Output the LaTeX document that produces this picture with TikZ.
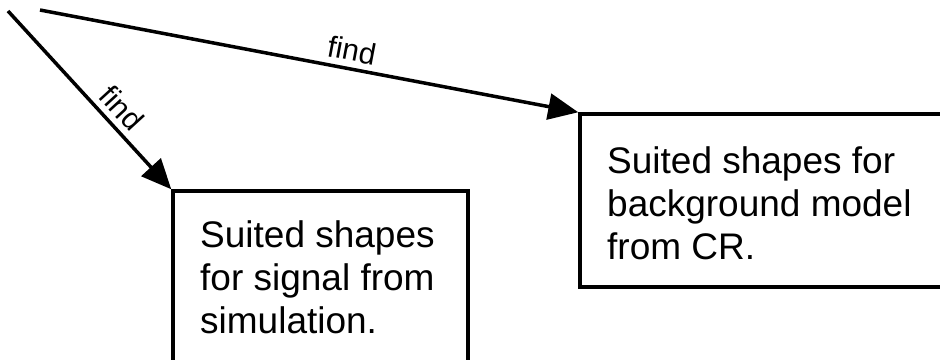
\documentclass[tikz,border=0pt]{standalone}
\usepackage{fontspec}
\setmainfont{Liberation Sans}
\usetikzlibrary{arrows.meta}
\begin{document}
\begin{tikzpicture}[x=1pt,y=-1pt,
  box/.style={draw, line width=3.5pt, anchor=north west, inner sep=0pt},
  boxtext/.style={anchor=north west, inner sep=0pt, align=left,
    font=\fontsize{37}{43}\selectfont},
  flow/.style={line width=3.5pt, -{Triangle[length=30pt,width=26pt]}},
  edgelabel/.style={sloped, above, inner sep=6pt,
    font=\fontsize{30}{36}\selectfont}]
\clip (0,0) rectangle (940,359);
% the two result boxes (both run past the page edge)
\node[box, minimum width=295pt, minimum height=230pt] (sig) at (171.25,189.25) {};
\node[box, minimum width=420pt, minimum height=173pt] (bkg) at (578.25,112.25) {};
\node[boxtext] (sigtext) at (200,220) {Suited shapes\\for signal from\\simulation.};
\node[boxtext] (bkgtext) at (607,146) {Suited shapes for\\background model\\from CR.};
% incoming arrows
\coordinate (s1) at (8,11);
\coordinate (s2) at (40,10);
\draw[flow] (s1) -- node[edgelabel, pos=0.614] {find} (sig.north west);
\draw[flow] (s2) -- node[edgelabel, pos=0.573] {find} (bkg.north west);
\end{tikzpicture}
\end{document}
